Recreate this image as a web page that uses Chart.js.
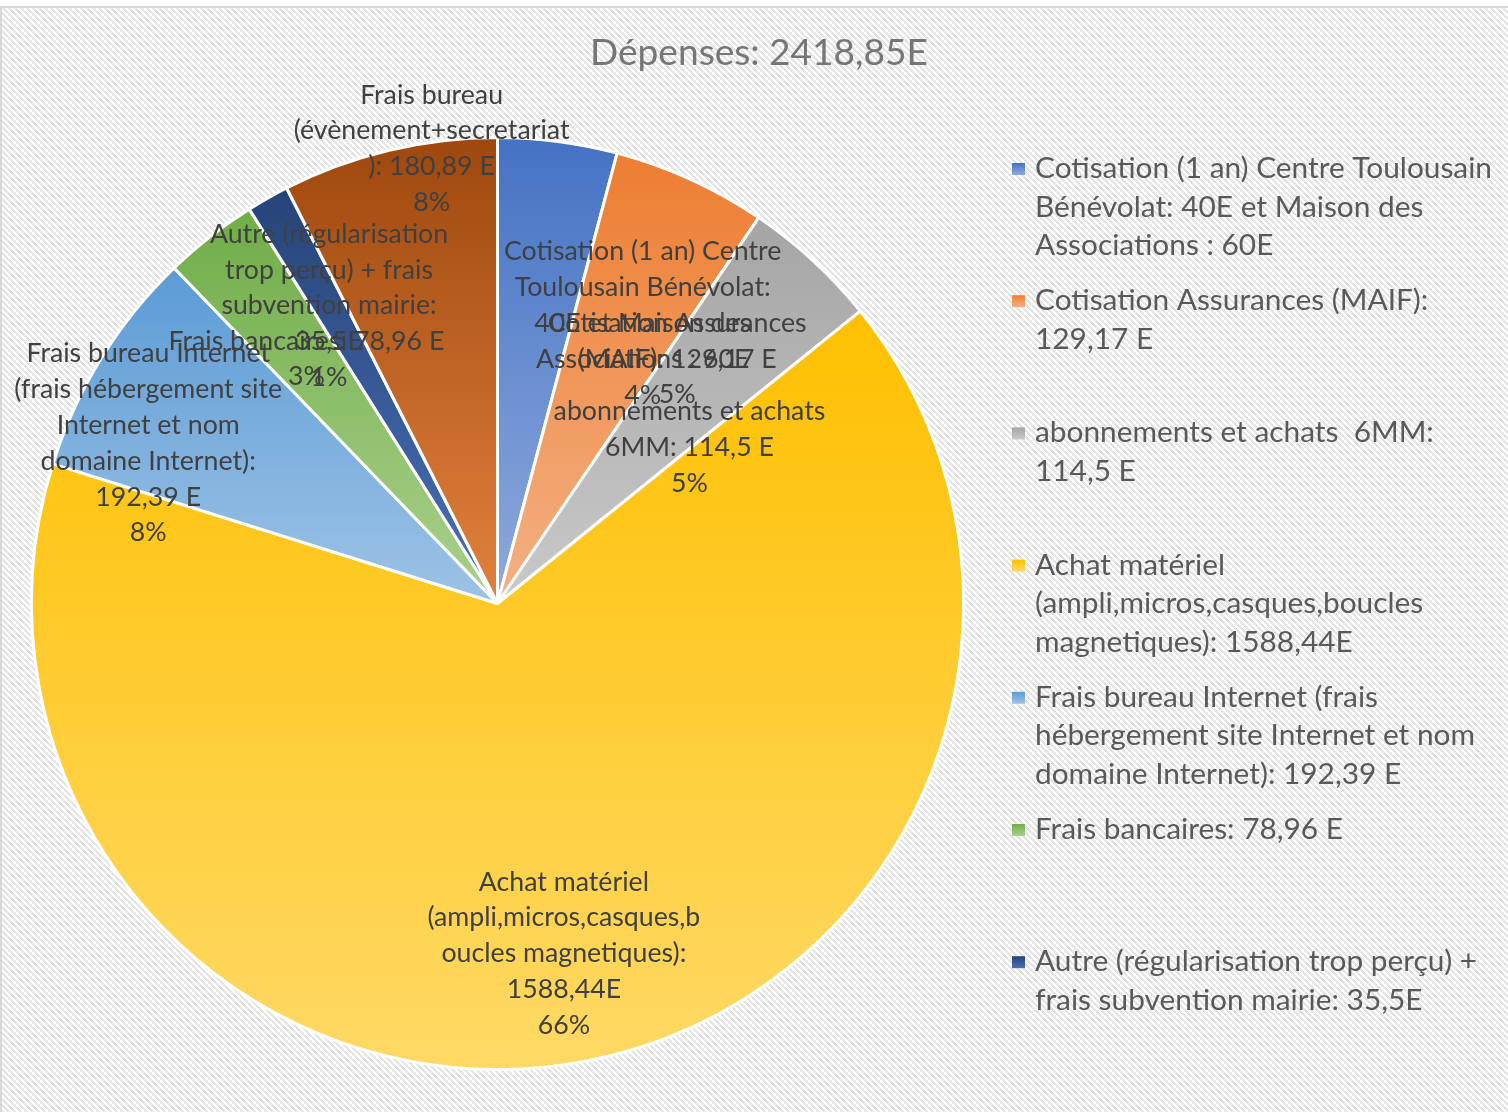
<!DOCTYPE html>
<html>
<head>
<meta charset="utf-8">
<script src="https://cdn.jsdelivr.net/npm/chart.js@4.4.0/dist/chart.umd.min.js"></script>
<style>
  html, body { margin: 0; padding: 0; background: #fff; }
  #wrap { width: 1508px; height: 1112px; }
</style>
</head>
<body>
<div id="wrap"><canvas id="depenses" width="1508" height="1112"></canvas></div>
<script>
const chartTitle = 'Dépenses: 2418,85E';

const categories = [
  'Cotisation (1 an) Centre Toulousain Bénévolat: 40E et Maison des Associations : 60E',
  'Cotisation Assurances (MAIF): 129,17 E',
  'abonnements et achats  6MM: 114,5 E',
  'Achat matériel (ampli,micros,casques,boucles magnetiques): 1588,44E',
  'Frais bureau Internet (frais hébergement site Internet et nom domaine Internet): 192,39 E',
  'Frais bancaires: 78,96 E',
  'Autre (régularisation trop perçu) + frais subvention mairie: 35,5E',
  'Frais bureau (évènement+secretariat): 180,89 E'
];
const amounts = [100, 129.17, 114.5, 1588.44, 192.39, 78.96, 35.5, 180.89];

// how the names wrap inside the slices
const sliceLabelLines = [
  ['Cotisation (1 an) Centre', 'Toulousain Bénévolat:', '40E et Maison des', 'Associations : 60E'],
  ['Cotisation Assurances', '(MAIF): 129,17 E'],
  ['abonnements et achats', '6MM: 114,5 E'],
  ['Achat matériel', '(ampli,micros,casques,b', 'oucles magnetiques):', '1588,44E'],
  ['Frais bureau Internet', '(frais hébergement site', 'Internet et nom', 'domaine Internet):', '192,39 E'],
  ['Frais bancaires: 78,96 E'],
  ['Autre (régularisation', 'trop perçu) + frais', 'subvention mairie:', '35,5E'],
  ['Frais bureau', '(évènement+secretariat', '): 180,89 E']
];

// how the names wrap in the legend
const legendLines = [
  ['Cotisation (1 an) Centre Toulousain', 'Bénévolat: 40E et Maison des', 'Associations : 60E'],
  ['Cotisation Assurances (MAIF):', '129,17 E'],
  ['abonnements et achats  6MM:', '114,5 E'],
  ['Achat matériel', '(ampli,micros,casques,boucles', 'magnetiques): 1588,44E'],
  ['Frais bureau Internet (frais', 'hébergement site Internet et nom', 'domaine Internet): 192,39 E'],
  ['Frais bancaires: 78,96 E'],
  ['Autre (régularisation trop perçu) +', 'frais subvention mairie: 35,5E'],
  ['Frais bureau (évènement+secretariat', '): 180,89 E']
];

// gradient ends, top of slice -> bottom of slice
const topColors = ['#4472C4', '#ED7D31', '#A5A5A5', '#FFC000', '#5B9BD5', '#70AD47', '#264478', '#9E480E'];
const bottomColors = ['#8FAADC', '#F4B183', '#C9C9C9', '#FFD966', '#9DC3E6', '#A9D18E', '#4A70B8', '#E2813D'];

// where each data label sits: fraction of radius, angle shift in degrees
const labelRadius = [0.676, 0.65, 0.53, 0.766, 0.824, 0.665, 0.733, 0.985];
const labelShift = [20, 11.9, 8.4, 0, -7.2, 0, 0, 5.2];

const FONT = 'Lato, Calibri, "Open Sans", sans-serif';

// rounded percentages that add up to 100 (largest remainder)
function percents(vals) {
  const tot = vals.reduce((a, b) => a + b, 0);
  const raw = vals.map(v => v / tot * 100);
  const out = raw.map(Math.floor);
  let left = 100 - out.reduce((a, b) => a + b, 0);
  const order = raw.map((v, i) => [v - Math.floor(v), i]).sort((a, b) => b[0] - a[0]);
  for (let k = 0; k < left; k++) out[order[k][1]] += 1;
  return out.map(p => p + '%');
}
const pctLabels = percents(amounts);

function sliceGradient(context) {
  const chart = context.chart;
  const area = chart.chartArea;
  const i = context.dataIndex;
  if (!area) return topColors[i];
  const meta = chart.getDatasetMeta(0);
  const r = meta.controller.outerRadius || Math.min(area.width, area.height) / 2;
  const cy = (area.top + area.bottom) / 2;
  const total = amounts.reduce((a, b) => a + b, 0);
  let a0 = 0;
  for (let k = 0; k < i; k++) a0 += amounts[k] / total * 2 * Math.PI;
  const a1 = a0 + amounts[i] / total * 2 * Math.PI;
  const ys = [cy, cy - r * Math.cos(a0), cy - r * Math.cos(a1)];
  if (a0 < 1e-9 || a1 > 2 * Math.PI - 1e-9) ys.push(cy - r);
  if (a0 < Math.PI && a1 > Math.PI) ys.push(cy + r);
  const g = chart.ctx.createLinearGradient(0, Math.min(...ys), 0, Math.max(...ys));
  g.addColorStop(0, topColors[i]);
  g.addColorStop(1, bottomColors[i]);
  return g;
}

function fitSize(ctx, text, width) {
  ctx.font = '100px ' + FONT;
  return 100 * width / ctx.measureText(text).width;
}

// hatched backdrop + frame
const backdrop = {
  id: 'backdrop',
  beforeDraw(chart) {
    const ctx = chart.ctx;
    const tile = document.createElement('canvas');
    tile.width = 6; tile.height = 6;
    const tctx = tile.getContext('2d');
    tctx.fillStyle = '#ffffff';
    tctx.fillRect(0, 0, 6, 6);
    tctx.fillStyle = '#e4e4e4';
    for (let y = 0; y < 6; y++) {
      for (let x = 0; x < 6; x++) {
        if (((x - y) % 6 + 6) % 6 < 3) tctx.fillRect(x, y, 1, 1);
      }
    }
    ctx.save();
    ctx.fillStyle = '#ffffff';
    ctx.fillRect(0, 0, chart.width, chart.height);
    ctx.fillStyle = ctx.createPattern(tile, 'repeat');
    ctx.fillRect(2, 8, chart.width - 2, chart.height - 8);
    ctx.strokeStyle = '#d9d9d9';
    ctx.lineWidth = 2;
    ctx.beginPath();
    ctx.moveTo(1, chart.height);
    ctx.lineTo(1, 7);
    ctx.lineTo(chart.width, 7);
    ctx.stroke();
    ctx.restore();
  }
};

// data labels inside / around the slices
const sliceLabels = {
  id: 'sliceLabels',
  afterDatasetsDraw(chart) {
    const ctx = chart.ctx;
    const meta = chart.getDatasetMeta(0);
    const size = fitSize(ctx, 'Cotisation Assurances', 259);
    ctx.save();
    ctx.font = size.toFixed(2) + 'px ' + FONT;
    ctx.fillStyle = '#404040';
    ctx.textAlign = 'center';
    ctx.textBaseline = 'alphabetic';
    const lh = 35.8;
    meta.data.forEach((arc, i) => {
      const p = arc.getProps(['x', 'y', 'startAngle', 'endAngle', 'outerRadius'], true);
      const mid = (p.startAngle + p.endAngle) / 2 + labelShift[i] * Math.PI / 180;
      const ax = p.x + labelRadius[i] * p.outerRadius * Math.cos(mid);
      const ay = p.y + labelRadius[i] * p.outerRadius * Math.sin(mid);
      const lines = sliceLabelLines[i].concat([pctLabels[i]]);
      const y0 = ay - (lines.length - 1) / 2 * lh + 8;
      lines.forEach((t, j) => ctx.fillText(t, ax, y0 + j * lh));
    });
    ctx.restore();
  }
};

// title + wrapped legend on the right
const sideText = {
  id: 'sideText',
  afterDraw(chart) {
    const ctx = chart.ctx;
    ctx.save();
    const ts = fitSize(ctx, chartTitle, 338);
    ctx.font = ts.toFixed(2) + 'px ' + FONT;
    ctx.fillStyle = '#767676';
    ctx.textAlign = 'center';
    ctx.textBaseline = 'alphabetic';
    ctx.fillText(chartTitle, 759, 65);

    const ls = fitSize(ctx, legendLines[0][0], 457);
    ctx.font = ls.toFixed(2) + 'px ' + FONT;
    ctx.textAlign = 'left';
    const slot = 132.2, lh = 38.6;
    legendLines.forEach((lines, i) => {
      const base = 178 + slot * i;
      if (base + (lines.length - 1) * lh + 12 > chart.height - 20) return;
      const g = ctx.createLinearGradient(0, base - 15, 0, base - 3);
      g.addColorStop(0, topColors[i]);
      g.addColorStop(1, bottomColors[i]);
      ctx.fillStyle = g;
      ctx.fillRect(1012, base - 15, 13, 12);
      ctx.fillStyle = '#595959';
      lines.forEach((t, j) => ctx.fillText(t, 1035, base + j * lh));
    });
    ctx.restore();
  }
};

new Chart(document.getElementById('depenses'), {
  type: 'pie',
  data: {
    labels: categories,
    datasets: [{
      data: amounts,
      backgroundColor: sliceGradient,
      borderColor: '#ffffff',
      borderWidth: 3
    }]
  },
  options: {
    responsive: false,
    animation: false,
    events: [],
    layout: { padding: { left: 30, top: 136, right: 543, bottom: 41 } },
    plugins: {
      legend: { display: false },
      tooltip: { enabled: false },
      title: { display: false }
    }
  },
  plugins: [backdrop, sliceLabels, sideText]
});
</script>
</body>
</html>
